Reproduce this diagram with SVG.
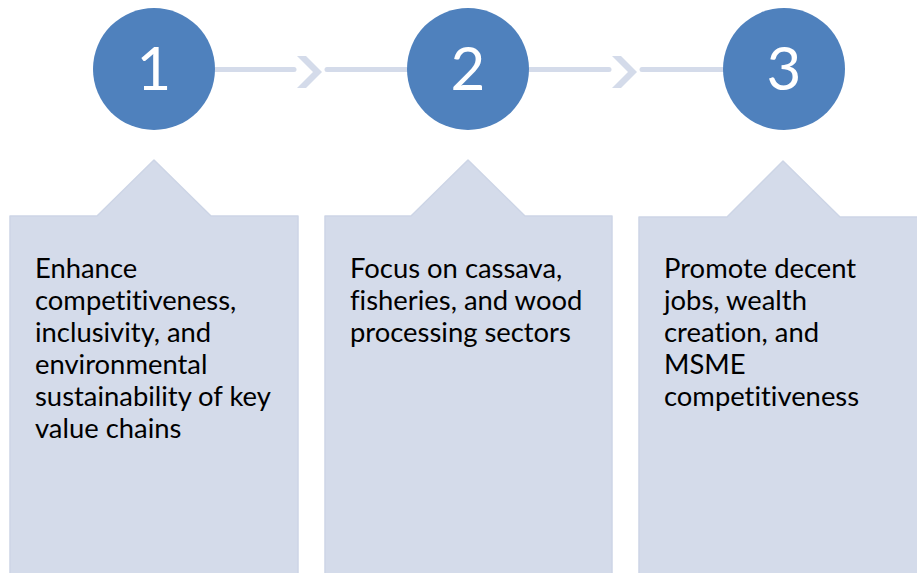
<svg xmlns="http://www.w3.org/2000/svg" width="917" height="573" viewBox="0 0 917 573">
<style>
.box{fill:#d4dbea;stroke:#cdd5e6;stroke-width:1.5;stroke-linejoin:round}
.circ{fill:#4f81bd}
.num{font-family:Lato,"Liberation Sans",sans-serif;font-size:60px;fill:#ffffff;text-anchor:middle}
.txt{font-family:Lato,"Liberation Sans",sans-serif;font-size:27.4px;fill:#000000;font-variant-ligatures:none}
.line{stroke:#d4dbea;stroke-width:5;stroke-linecap:round;fill:none}
.chev{fill:#d4dbea}
</style>
<rect width="917" height="573" fill="#ffffff"/>
<g id="connectors">
<line class="line" x1="214" y1="69.5" x2="294" y2="69.5"/>
<polygon class="chev" points="297,56 306,56 322,72 306,88 297,88 313,72"/>
<line class="line" x1="327" y1="69.5" x2="408" y2="69.5"/>
<line class="line" x1="528" y1="69.5" x2="609" y2="69.5"/>
<polygon class="chev" points="612,56 621,56 637,72 621,88 612,88 628,72"/>
<line class="line" x1="642" y1="69.5" x2="724" y2="69.5"/>
</g>
<g id="step1">
<path class="box" d="M10,216 L97,216 L154,160 L211,216 L298,216 L298,580 L10,580 Z"/>
<text class="txt"><tspan x="35" y="278">Enhance</tspan><tspan x="35" y="310">competitiveness,</tspan><tspan x="35" y="342">inclusivity, and</tspan><tspan x="35" y="374">environmental</tspan><tspan x="35" y="406">sustainability of key</tspan><tspan x="35" y="438">value chains</tspan></text>
<circle class="circ" cx="154" cy="69" r="61"/>
<text class="num" x="154" y="90">1</text>
</g>
<g id="step2">
<path class="box" d="M325,216 L411,216 L468,160 L525,216 L612,216 L612,580 L325,580 Z"/>
<text class="txt"><tspan x="350" y="278">Focus on cassava,</tspan><tspan x="350" y="310">fisheries, and wood</tspan><tspan x="350" y="342">processing sectors</tspan></text>
<circle class="circ" cx="468" cy="69" r="61"/>
<text class="num" x="468" y="90">2</text>
</g>
<g id="step3">
<path class="box" d="M639,217 L727,217 L783,161 L840,217 L925,217 L925,580 L639,580 Z"/>
<text class="txt"><tspan x="664" y="278">Promote decent</tspan><tspan x="664" y="310">jobs, wealth</tspan><tspan x="664" y="342">creation, and</tspan><tspan x="664" y="374">MSME</tspan><tspan x="664" y="406">competitiveness</tspan></text>
<circle class="circ" cx="784" cy="69" r="61"/>
<text class="num" x="784" y="90">3</text>
</g>
</svg>
